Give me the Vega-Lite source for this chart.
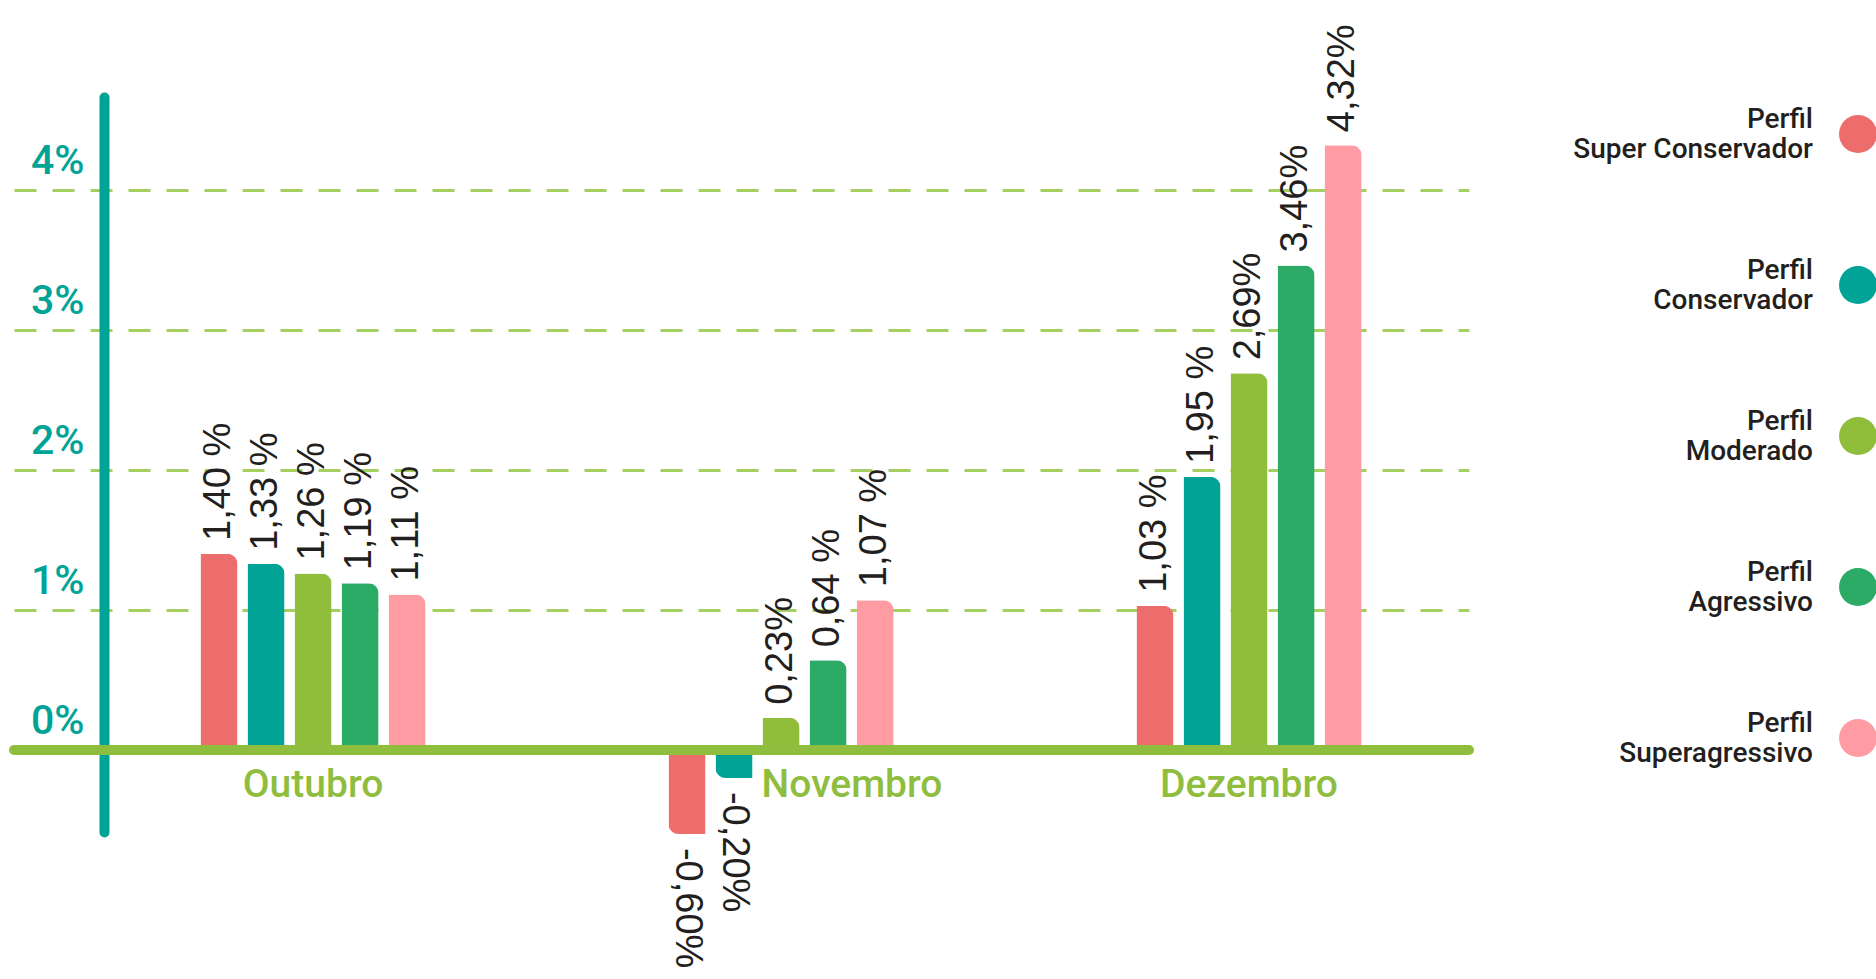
{
  "$schema": "https://vega.github.io/schema/vega-lite/v6.json",
  "autosize": "none",
  "padding": {"left": 14, "top": 97, "right": 407, "bottom": 147},
  "width": 1455,
  "height": 735,
  "background": "white",
  "config": {"view": {"stroke": null}},
  "data": {
    "values": [
      {"mes": "Outubro", "perfil": "Perfil Super Conservador", "valor": 1.40, "rotulo": "1,40 %"},
      {"mes": "Outubro", "perfil": "Perfil Conservador", "valor": 1.33, "rotulo": "1,33 %"},
      {"mes": "Outubro", "perfil": "Perfil Moderado", "valor": 1.26, "rotulo": "1,26 %"},
      {"mes": "Outubro", "perfil": "Perfil Agressivo", "valor": 1.19, "rotulo": "1,19 %"},
      {"mes": "Outubro", "perfil": "Perfil Superagressivo", "valor": 1.11, "rotulo": "1,11 %"},
      {"mes": "Novembro", "perfil": "Perfil Super Conservador", "valor": -0.60, "rotulo": "-0,60%"},
      {"mes": "Novembro", "perfil": "Perfil Conservador", "valor": -0.20, "rotulo": "-0,20%"},
      {"mes": "Novembro", "perfil": "Perfil Moderado", "valor": 0.23, "rotulo": "0,23%"},
      {"mes": "Novembro", "perfil": "Perfil Agressivo", "valor": 0.64, "rotulo": "0,64 %"},
      {"mes": "Novembro", "perfil": "Perfil Superagressivo", "valor": 1.07, "rotulo": "1,07 %"},
      {"mes": "Dezembro", "perfil": "Perfil Super Conservador", "valor": 1.03, "rotulo": "1,03 %"},
      {"mes": "Dezembro", "perfil": "Perfil Conservador", "valor": 1.95, "rotulo": "1,95 %"},
      {"mes": "Dezembro", "perfil": "Perfil Moderado", "valor": 2.69, "rotulo": "2,69%"},
      {"mes": "Dezembro", "perfil": "Perfil Agressivo", "valor": 3.46, "rotulo": "3,46%"},
      {"mes": "Dezembro", "perfil": "Perfil Superagressivo", "valor": 4.32, "rotulo": "4,32%"}
    ]
  },
  "layer": [
    {
      "transform": [{"filter": "datum.valor >= 0"}],
      "mark": {"type": "bar", "cornerRadiusTopRight": 10},
      "encoding": {
        "x": {
          "field": "mes", "type": "nominal",
          "sort": ["Outubro", "Novembro", "Dezembro"],
          "scale": {"paddingInner": 0.519, "paddingOuter": 0.314, "align": 0.6345},
          "axis": {
            "orient": "bottom", "offset": -82, "domain": false, "ticks": false, "grid": false,
            "labelColor": "#8fbd3d", "labelFont": "Roboto", "labelFontSize": 39, "labelFontWeight": 500,
            "labelPadding": 15, "labelAngle": 0, "labelBaseline": "top", "labelLimit": 500,
            "labelOffset": {"condition": {"test": "datum.value === 'Novembro'", "value": 71}, "value": 0},
            "title": null
          }
        },
        "xOffset": {
          "field": "perfil", "type": "nominal",
          "sort": ["Perfil Super Conservador", "Perfil Conservador", "Perfil Moderado", "Perfil Agressivo", "Perfil Superagressivo"],
          "scale": {"paddingInner": 0.2128, "paddingOuter": 0}
        },
        "y": {
          "field": "valor", "type": "quantitative",
          "scale": {"domain": [-0.586, 4.664], "nice": false},
          "axis": {
            "values": [0, 1, 2, 3, 4], "labelExpr": "datum.value + '%'",
            "offset": -90, "domainColor": "#00a396", "domainWidth": 10, "domainCap": "round",
            "ticks": false, "labelColor": "#00a396", "labelFont": "Roboto", "labelFontSize": 41,
            "labelFontWeight": 500, "labelPadding": 20, "labelBaseline": "middle", "labelOffset": -28,
            "grid": true, "gridColor": "#a6cf62", "gridWidth": 3, "gridDash": [22, 16],
            "gridOpacity": {"condition": {"test": "datum.value === 0", "value": 0}, "value": 1},
            "title": null, "zindex": 0
          }
        },
        "color": {
          "field": "perfil", "type": "nominal",
          "scale": {
            "domain": ["Perfil Super Conservador", "Perfil Conservador", "Perfil Moderado", "Perfil Agressivo", "Perfil Superagressivo"],
            "range": ["#ed6c6c", "#00a396", "#91bd3d", "#2cab67", "#fe9ba3"]
          },
          "legend": {
            "orient": "none", "legendX": 1825, "legendY": 18, "title": null,
            "symbolType": "circle", "symbolSize": 1444, "symbolStrokeWidth": 0, "symbolOpacity": 1,
            "labelAlign": "right", "labelBaseline": "bottom", "labelOffset": -64, "labelFont": "Roboto", "labelFontSize": 28,
            "labelFontWeight": 500, "labelColor": "#231f20", "labelLimit": 400, "rowPadding": 93,
            "labelExpr": "['Perfil', slice(datum.label, 7)]", "padding": 0
          }
        }
      }
    },
    {
      "transform": [{"filter": "datum.valor < 0"}],
      "mark": {"type": "bar", "cornerRadiusBottomLeft": 10},
      "encoding": {
        "x": {"field": "mes", "type": "nominal", "sort": ["Outubro", "Novembro", "Dezembro"]},
        "xOffset": {"field": "perfil", "type": "nominal", "sort": ["Perfil Super Conservador", "Perfil Conservador", "Perfil Moderado", "Perfil Agressivo", "Perfil Superagressivo"]},
        "y": {"field": "valor", "type": "quantitative"},
        "color": {"field": "perfil", "type": "nominal"}
      }
    },
    {
      "transform": [{"filter": "datum.valor >= 0"}],
      "mark": {"type": "text", "angle": 270, "align": "left", "baseline": "middle", "dx": 13, "font": "Liberation Sans", "fontSize": 38, "color": "#231f20"},
      "encoding": {
        "x": {"field": "mes", "type": "nominal", "sort": ["Outubro", "Novembro", "Dezembro"]},
        "xOffset": {"field": "perfil", "type": "nominal", "sort": ["Perfil Super Conservador", "Perfil Conservador", "Perfil Moderado", "Perfil Agressivo", "Perfil Superagressivo"]},
        "y": {"field": "valor", "type": "quantitative"},
        "text": {"field": "rotulo"}
      }
    },
    {
      "transform": [{"filter": "datum.valor < 0"}],
      "mark": {"type": "text", "angle": 90, "align": "left", "baseline": "middle", "dx": 14, "font": "Liberation Sans", "fontSize": 38, "color": "#231f20"},
      "encoding": {
        "x": {"field": "mes", "type": "nominal", "sort": ["Outubro", "Novembro", "Dezembro"]},
        "xOffset": {"field": "perfil", "type": "nominal", "sort": ["Perfil Super Conservador", "Perfil Conservador", "Perfil Moderado", "Perfil Agressivo", "Perfil Superagressivo"]},
        "y": {"field": "valor", "type": "quantitative"},
        "text": {"field": "rotulo"}
      }
    },
    {
      "data": {"values": [{}]},
      "mark": {"type": "rule", "color": "#8fbd3d", "strokeWidth": 10, "strokeCap": "round"},
      "encoding": {"y": {"datum": 0, "type": "quantitative"}}
    }
  ]
}
